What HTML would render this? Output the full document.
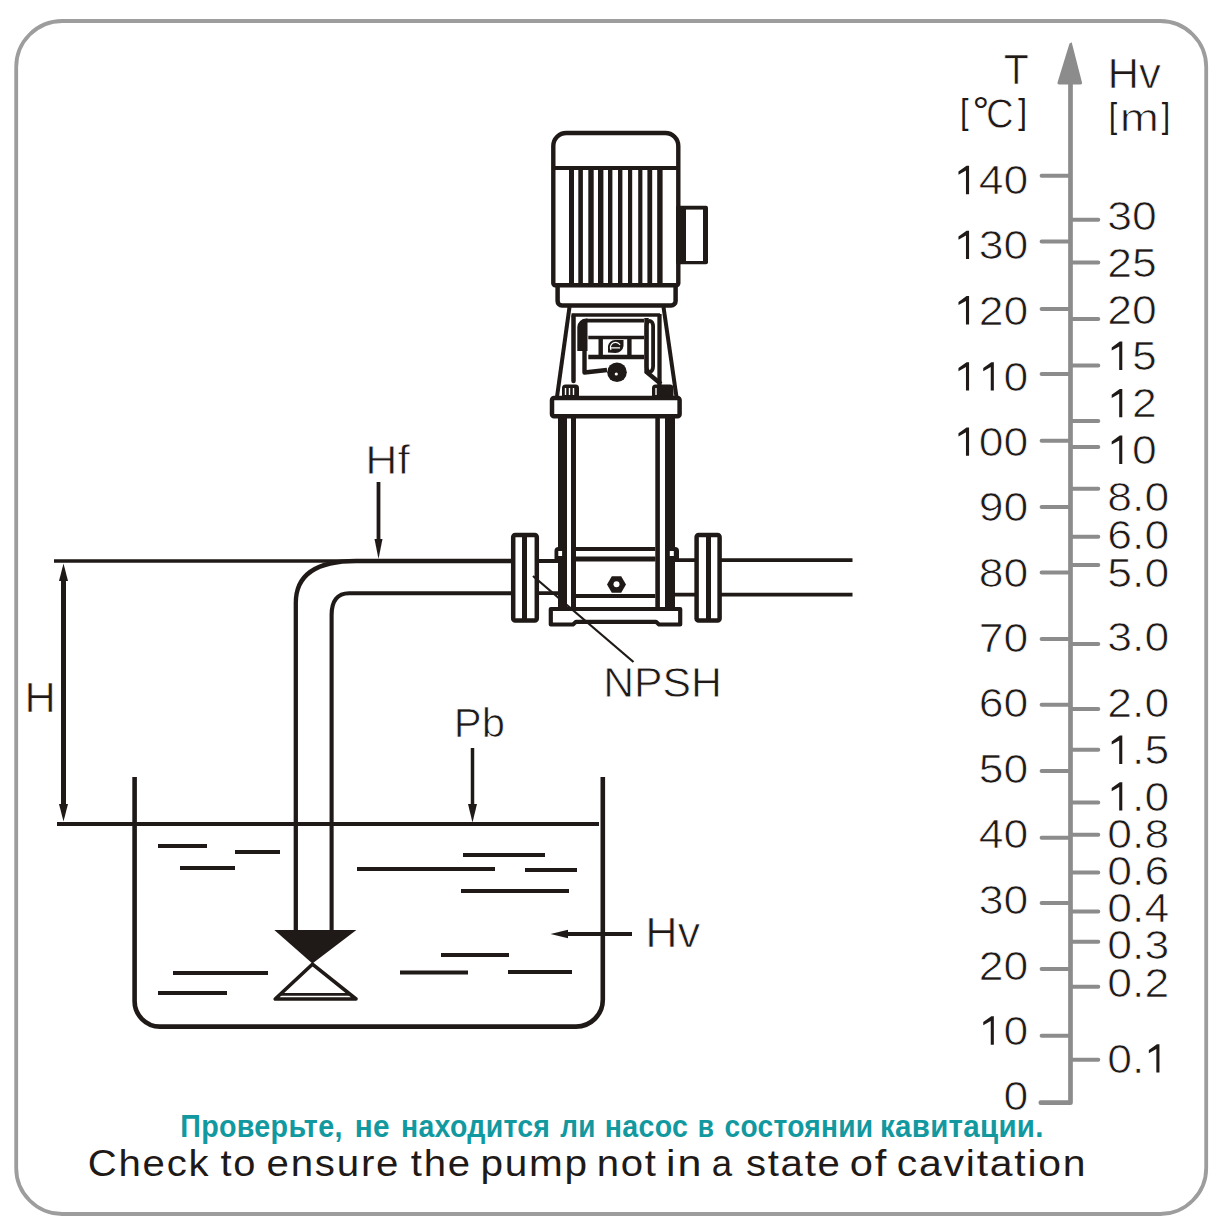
<!DOCTYPE html>
<html><head><meta charset="utf-8">
<style>
html,body{margin:0;padding:0;background:#fff;width:1230px;height:1229px;overflow:hidden}
svg{position:absolute;left:0;top:0;display:block}
text{font-family:"Liberation Sans",sans-serif}
</style></head>
<body>
<svg width="1230" height="1229" viewBox="0 0 1230 1229">
<rect x="0" y="0" width="1230" height="1229" fill="#fff"/>
<!-- border -->
<rect x="16.2" y="21" width="1190" height="1193" rx="46" ry="46" fill="#fff" stroke="#9d9d9d" stroke-width="3.8"/>

<g id="diagram" stroke="#1f1a17" fill="none" stroke-linecap="butt">
  <!-- datum line + outer pipe -->
  <path d="M54,561 L511,561" stroke-width="3.7"/>
  <path d="M295.8,930 L295.8,603 C295.8,576 314,561 356,561 L511,561" stroke-width="4.3"/>
  <path d="M331.6,930 L331.6,615 C331.6,601 337.5,593.2 349,593.2 L511,593.2" stroke-width="4.1"/>
  <!-- H dimension -->
  <path d="M63.5,578 L63.5,807" stroke-width="5"/>
  <path d="M63.5,563.5 L59,581 L68,581 Z" fill="#1f1a17" stroke="none"/>
  <path d="M63.5,821.5 L59,804 L68,804 Z" fill="#1f1a17" stroke="none"/>
  <!-- water line -->
  <path d="M57,824 L599,824" stroke-width="4"/>
  <!-- Hf arrow -->
  <path d="M378.5,482 L378.5,542" stroke-width="3.8"/>
  <path d="M378.5,559 L374.5,539 L382.5,539 Z" fill="#1f1a17" stroke="none"/>
  <!-- Pb arrow -->
  <path d="M472.5,748 L472.5,807" stroke-width="3.5"/>
  <path d="M472.5,822.5 L468,804 L477,804 Z" fill="#1f1a17" stroke="none"/>
  <!-- Hv arrow -->
  <path d="M566,934 L632,934" stroke-width="4"/>
  <path d="M550.5,934 L568,929.8 L568,938.2 Z" fill="#1f1a17" stroke="none"/>
  <!-- NPSH leader -->
  <!-- tank -->
  <path d="M134.6,777 L134.6,1001 A25.5,25.5 0 0 0 160,1026.6 L576,1026.6 A26.8,26.8 0 0 0 602.8,999.8 L602.8,777" stroke-width="4.6"/>
  <!-- waves -->
  <g stroke-width="4">
    <path d="M158,846 H207"/><path d="M235,852 H280"/><path d="M180,868 H235"/>
    <path d="M463,855 H545"/><path d="M357,869 H495"/><path d="M525,870 H577"/>
    <path d="M461,891 H569"/><path d="M173,973 H268"/><path d="M158,993 H227"/>
    <path d="M441,955 H509"/><path d="M400,972.4 H468"/><path d="M508,972 H572"/>
  </g>
  <!-- foot valve -->
  <path d="M274.3,930 L356.4,930 L312.4,963.6 Z" fill="#1f1a17" stroke="none"/>
  <path d="M312.4,964.2 L275.2,999 L356,999 Z" stroke-width="3.6" stroke-linejoin="round"/>
  <path d="M280.5,994.3 L350.5,994.3" stroke-width="2.8"/>

  <!-- pipe stubs near pump -->
  <path d="M539,561 H558 M539,593.2 H558" stroke-width="3.8"/>
  <path d="M675,560.2 H695 M675,594.6 H695" stroke-width="3.8"/>
  <path d="M721,560.2 H852.5 M721,594.6 H852.5" stroke-width="3.8"/>
  <!-- flanges -->
  <rect x="513.2" y="535" width="23.6" height="85.4" rx="2" stroke-width="4.5"/>
  <path d="M524.5,535 V620" stroke-width="5"/>
  <rect x="696.6" y="535" width="23" height="85.4" rx="2" stroke-width="4.5"/>
  <path d="M708.5,535 V620" stroke-width="5"/>
</g>

<g id="pump" stroke="#1f1a17" fill="none">
  <!-- collar -->
  <path d="M557.6,285 L557.6,301 A4.5,4.5 0 0 0 562,305.5 L671,305.5 A4.5,4.5 0 0 0 675.6,301 L675.6,285" stroke-width="4.5" fill="#fff"/>
  <!-- motor -->
  <path d="M555.3,285.2 A2,2 0 0 1 553.3,283.2 L553.3,146 A13,13 0 0 1 566.3,133 L665.3,133 A13,13 0 0 1 678.3,146 L678.3,283.2 A2,2 0 0 1 676.3,285.2 Z" stroke-width="4.4" fill="#fff"/>
  <path d="M553,168 H678" stroke-width="4"/>
  <g fill="#1f1a17" stroke="none">
    <rect x="569" y="168" width="5" height="117"/>
    <rect x="578.3" y="168" width="4.6" height="117"/>
    <rect x="588.3" y="168" width="5.4" height="117"/>
    <rect x="598" y="168" width="5.4" height="117"/>
    <rect x="608" y="168" width="4.4" height="117"/>
    <rect x="618" y="168" width="4.4" height="117"/>
    <rect x="628" y="168" width="4.2" height="117"/>
    <rect x="638.2" y="168" width="4.2" height="117"/>
    <rect x="647.4" y="168" width="4.8" height="117"/>
    <rect x="657.2" y="168" width="5.4" height="117"/>
    <!-- terminal box -->
    <rect x="676" y="205.8" width="32" height="58.5" rx="2"/>
  </g>
  <rect x="686" y="209.6" width="17" height="51.4" fill="#fff" stroke="none"/>
  <!-- bracket legs -->
  <path d="M569.5,307 L557,397" stroke-width="4"/>
  <path d="M663.5,307 L676.5,397" stroke-width="4"/>
  <path d="M571.6,315 H660" stroke-width="3.7"/>
  <path d="M573.5,316 V381" stroke-width="4.5" stroke-linecap="round"/>
  <path d="M659.5,314 V386" stroke-width="4.3"/>
  <!-- inner frame -->
  <path d="M584.5,350 V372.5 L607,370" stroke-width="4.4" stroke-linejoin="round"/>
  <path d="M577.3,351 L577.3,327 A9,9 0 0 1 586.3,318.4 L587.5,318.4 L587.5,351 Z" fill="#1f1a17" stroke="none"/>
  <path d="M586,320.6 H644" stroke-width="3.8"/>
  <rect x="646.5" y="320.8" width="6.6" height="51" rx="5.5" stroke-width="3.8"/>
  <path d="M646.5,318 V372 L661,384" stroke-width="4.4"/>
  <path d="M588.3,337.5 H644" stroke-width="3.5"/>
  <path d="M588.3,357 H644" stroke-width="4.6"/>
  <path d="M600.7,337.5 V357 M629.4,337.5 V357" stroke-width="4.4"/>
  <!-- logo -->
  <path d="M608,352.5 L608,346 A7,7 0 0 1 615,340 L623.5,340 L623.5,346 A8,8 0 0 1 615.5,353 Z" fill="#1f1a17" stroke="none"/>
  <path d="M611,350 A5,5 0 0 1 620,345 M610.5,347.8 H620" stroke="#fff" stroke-width="1.2"/>
  <!-- nut -->
  <circle cx="617" cy="372.3" r="9.8" fill="#1f1a17" stroke="none"/>
  <path d="M608,366 A11,11 0 0 1 627,367" stroke="#fff" stroke-width="1"/>
  <circle cx="616.3" cy="374" r="1.6" fill="#fff" stroke="none"/>
  <!-- bolts -->
  <path d="M562,396 V388 A3.5,3.5 0 0 1 565.5,384.5 H575.5 A3.5,3.5 0 0 1 579,388 V396 Z" fill="#1f1a17" stroke="none"/>
  <path d="M565.5,388 V395 M569.5,388 V395 M573.5,388 V395" stroke="#fff" stroke-width="1.4"/>
  <path d="M652,396 V388 A3.5,3.5 0 0 1 655.5,384.5 H670 A3.5,3.5 0 0 1 673.5,388 V396 Z" fill="#1f1a17" stroke="none"/>
  <path d="M656,388 V395" stroke="#fff" stroke-width="1.4"/>
  <!-- base plate -->
  <rect x="552" y="398" width="127.6" height="18.2" rx="2" stroke-width="4.5" fill="#fff"/>
  <!-- tie rods -->
  <g fill="#1f1a17" stroke="none">
    <rect x="558" y="418" width="9" height="191"/>
    <rect x="665" y="418" width="10" height="191"/>
    <rect x="571" y="418" width="5" height="191"/>
    <rect x="655.3" y="418" width="4.6" height="191"/>
    <!-- bulges -->
    <path d="M554.5,562.5 V551 A4,4 0 0 1 558.5,547 H567 V562.5 Z"/>
    <path d="M679,562 V551 A4,4 0 0 0 675,547 H665 V562 Z"/>
  </g>
  <rect x="558.3" y="551" width="3.8" height="5" fill="#fff" stroke="none"/>
  <rect x="669.8" y="551" width="4" height="5" fill="#fff" stroke="none"/>
  <path d="M576,549 H655.3 M576,559 H655.3 M576,596 H655.3" stroke-width="3.8"/>
  <path d="M576,559 H655.3" stroke-width="5"/>
  <!-- hex nut -->
  <path d="M611.8,576.2 L621.2,576.2 L626,584.5 L621.2,592.8 L611.8,592.8 L607,584.5 Z" fill="#1f1a17" stroke="none"/>
  <circle cx="616.5" cy="584.3" r="3" fill="#fff" stroke="none"/>
  <!-- pump base foot -->
  <path d="M550.8,609 L680.2,609 L680.2,624.5 L659,624.5 L656,621.8 L576,621.8 L573,624.5 L550.8,624.5 Z" stroke-width="4.2" stroke-linejoin="round" fill="#fff"/>
</g>
<path d="M533,576 L633.5,662" stroke="#1f1a17" stroke-width="2.3" fill="none"/>
<g id="scale" stroke="#8c8c8c" fill="none">
  <path d="M1070.5,82 V1102.7 H1040.8" stroke-width="4.7" stroke-linejoin="round" stroke-linecap="round"/>
  <path d="M1070.7,43 Q1071.5,41.5 1072,43.5 L1082,82.5 Q1082.5,84.5 1080.5,84.5 L1059,84.5 Q1057,84.5 1057.5,82.5 L1069.5,43.5 Z" fill="#8c8c8c" stroke="none"/>
  <path d="M1041.6,175.8 H1069 M1041.6,241.6 H1069 M1041.6,309 H1069 M1041.6,374 H1069 M1041.6,440.7 H1069 M1041.6,507 H1069 M1041.6,572.6 H1069 M1041.6,639 H1069 M1041.6,704.8 H1069 M1041.6,771 H1069 M1041.6,837.8 H1069 M1041.6,903 H1069 M1041.6,969 H1069 M1041.6,1035.8 H1069 " stroke-width="4.0" stroke-linecap="round"/>
  <path d="M1072,219.8 H1098.3 M1072,262.6 H1098.3 M1072,319 H1098.3 M1072,365.5 H1098.3 M1072,421 H1098.3 M1072,447 H1098.3 M1072,488.8 H1098.3 M1072,536.8 H1098.3 M1072,565 H1098.3 M1072,643.9 H1098.3 M1072,709 H1098.3 M1072,749.8 H1098.3 M1072,802.6 H1098.3 M1072,834.7 H1098.3 M1072,872.6 H1098.3 M1072,911.5 H1098.3 M1072,941.8 H1098.3 M1072,986.7 H1098.3 M1072,1059.7 H1098.3 " stroke-width="4.0" stroke-linecap="round"/>
</g>
<g id="scalelabels" fill="#1f1a17" font-size="40.5" stroke="#fff" stroke-width="0.75">
  <text transform="translate(954.07,194.20) scale(1.1,1)"> 40</text>
  <path d="M965.97,194.20 H969.07 V165.80 H966.57 L958.47,171.60 L958.47,174.80 L965.97,170.60 Z" fill="#1f1a17" stroke="none"/>
  <text transform="translate(954.07,259.10) scale(1.1,1)"> 30</text>
  <path d="M965.97,259.10 H969.07 V230.70 H966.57 L958.47,236.50 L958.47,239.70 L965.97,235.50 Z" fill="#1f1a17" stroke="none"/>
  <text transform="translate(954.07,324.50) scale(1.1,1)"> 20</text>
  <path d="M965.97,324.50 H969.07 V296.10 H966.57 L958.47,301.90 L958.47,305.10 L965.97,300.90 Z" fill="#1f1a17" stroke="none"/>
  <text transform="translate(954.07,390.60) scale(1.1,1)">  0</text>
  <path d="M965.97,390.60 H969.07 V362.20 H966.57 L958.47,368.00 L958.47,371.20 L965.97,367.00 Z" fill="#1f1a17" stroke="none"/>
  <path d="M990.75,390.60 H993.85 V362.20 H991.35 L983.25,368.00 L983.25,371.20 L990.75,367.00 Z" fill="#1f1a17" stroke="none"/>
  <text transform="translate(954.07,455.80) scale(1.1,1)"> 00</text>
  <path d="M965.97,455.80 H969.07 V427.40 H966.57 L958.47,433.20 L958.47,436.40 L965.97,432.20 Z" fill="#1f1a17" stroke="none"/>
  <text transform="translate(978.85,520.70) scale(1.1,1)">90</text>
  <text transform="translate(978.85,586.60) scale(1.1,1)">80</text>
  <text transform="translate(978.85,651.50) scale(1.1,1)">70</text>
  <text transform="translate(978.85,717.30) scale(1.1,1)">60</text>
  <text transform="translate(978.85,782.60) scale(1.1,1)">50</text>
  <text transform="translate(978.85,848.40) scale(1.1,1)">40</text>
  <text transform="translate(978.85,914.10) scale(1.1,1)">30</text>
  <text transform="translate(978.85,979.70) scale(1.1,1)">20</text>
  <text transform="translate(978.85,1044.70) scale(1.1,1)"> 0</text>
  <path d="M990.75,1044.70 H993.85 V1016.30 H991.35 L983.25,1022.10 L983.25,1025.30 L990.75,1021.10 Z" fill="#1f1a17" stroke="none"/>
  <text transform="translate(1003.62,1109.90) scale(1.1,1)">0</text>
  <text transform="translate(1107.30,229.60) scale(1.1,1)">30</text>
  <text transform="translate(1107.30,276.70) scale(1.1,1)">25</text>
  <text transform="translate(1107.30,324.40) scale(1.1,1)">20</text>
  <text transform="translate(1107.30,370.00) scale(1.1,1)"> 5</text>
  <path d="M1119.20,370.00 H1122.30 V341.60 H1119.80 L1111.70,347.40 L1111.70,350.60 L1119.20,346.40 Z" fill="#1f1a17" stroke="none"/>
  <text transform="translate(1107.30,417.30) scale(1.1,1)"> 2</text>
  <path d="M1119.20,417.30 H1122.30 V388.90 H1119.80 L1111.70,394.70 L1111.70,397.90 L1119.20,393.70 Z" fill="#1f1a17" stroke="none"/>
  <text transform="translate(1107.30,464.00) scale(1.1,1)"> 0</text>
  <path d="M1119.20,464.00 H1122.30 V435.60 H1119.80 L1111.70,441.40 L1111.70,444.60 L1119.20,440.40 Z" fill="#1f1a17" stroke="none"/>
  <text transform="translate(1107.30,510.50) scale(1.1,1)">8.0</text>
  <text transform="translate(1107.30,549.20) scale(1.1,1)">6.0</text>
  <text transform="translate(1107.30,587.10) scale(1.1,1)">5.0</text>
  <text transform="translate(1107.30,651.30) scale(1.1,1)">3.0</text>
  <text transform="translate(1107.30,716.90) scale(1.1,1)">2.0</text>
  <text transform="translate(1107.30,764.00) scale(1.1,1)"> .5</text>
  <path d="M1119.20,764.00 H1122.30 V735.60 H1119.80 L1111.70,741.40 L1111.70,744.60 L1119.20,740.40 Z" fill="#1f1a17" stroke="none"/>
  <text transform="translate(1107.30,810.60) scale(1.1,1)"> .0</text>
  <path d="M1119.20,810.60 H1122.30 V782.20 H1119.80 L1111.70,788.00 L1111.70,791.20 L1119.20,787.00 Z" fill="#1f1a17" stroke="none"/>
  <text transform="translate(1107.30,848.20) scale(1.1,1)">0.8</text>
  <text transform="translate(1107.30,885.10) scale(1.1,1)">0.6</text>
  <text transform="translate(1107.30,922.40) scale(1.1,1)">0.4</text>
  <text transform="translate(1107.30,959.00) scale(1.1,1)">0.3</text>
  <text transform="translate(1107.30,996.60) scale(1.1,1)">0.2</text>
  <text transform="translate(1107.30,1072.60) scale(1.1,1)">0. </text>
  <path d="M1156.35,1072.60 H1159.45 V1044.20 H1156.95 L1148.85,1050.00 L1148.85,1053.20 L1156.35,1049.00 Z" fill="#1f1a17" stroke="none"/>
</g>
<g id="labels" fill="#1f1a17" stroke="#fff" stroke-width="0.75">
  <text font-size="40.49" transform="translate(365.34,474.00) scale(1.1013,1)" >Hf</text>
  <text font-size="42.59" transform="translate(24.45,712.00) scale(1.0173,1)" >H</text>
  <text font-size="40.44" transform="translate(453.77,736.81) scale(1.0348,1)" >Pb</text>
  <text font-size="42.23" transform="translate(603.19,696.79) scale(1.0125,1)" >NPSH</text>
  <text font-size="42.30" transform="translate(645.32,946.80) scale(1.0607,1)" >Hv</text>
  <text font-size="42.30" transform="translate(1003.68,84.30) scale(0.9701,1)" >T</text>
  <text font-size="42.01" transform="translate(1107.41,87.70) scale(1.0429,1)" >Hv</text>
  <text font-size="34.97" transform="translate(960.28,124.44) scale(0.8489,1)" stroke="none">[</text>
  <text font-size="40.60" transform="translate(972.41,125.35) scale(1.0282,1)" stroke="none">°</text>
  <text font-size="41.81" transform="translate(986.06,127.59) scale(0.9140,1)" >C</text>
  <text font-size="34.97" transform="translate(1018.16,124.44) scale(0.8920,1)" stroke="none">]</text>
  <text font-size="34.97" transform="translate(1108.92,127.74) scale(0.8345,1)" stroke="none">[</text>
  <text font-size="38.84" transform="translate(1119.87,131.30) scale(1.2125,1)" >m</text>
  <text font-size="34.97" transform="translate(1161.67,127.74) scale(0.8489,1)" stroke="none">]</text>
</g>
<g fill="#12999f" font-weight="bold">
  <text font-size="31.40" letter-spacing="0.3" transform="translate(180.28,1137.00) scale(0.9146,1)" >Проверьте,</text>
  <text font-size="31.40" letter-spacing="0.3" transform="translate(354.72,1137.00) scale(0.9473,1)" >не</text>
  <text font-size="31.40" letter-spacing="0.3" transform="translate(401.01,1137.00) scale(0.9072,1)" >находится</text>
  <text font-size="31.40" letter-spacing="0.3" transform="translate(560.21,1137.00) scale(0.8880,1)" >ли</text>
  <text font-size="31.40" letter-spacing="0.3" transform="translate(604.80,1137.00) scale(0.9106,1)" >насос</text>
  <text font-size="31.40" letter-spacing="0.3" transform="translate(697.86,1137.00) scale(0.8373,1)" >в</text>
  <text font-size="31.40" letter-spacing="0.3" transform="translate(724.50,1137.00) scale(0.8969,1)" >состоянии</text>
  <text font-size="31.40" letter-spacing="0.3" transform="translate(880.06,1137.00) scale(0.9392,1)" >кавитации.</text>
</g>
<g fill="#1f1a17">
  <text font-size="36.80" letter-spacing="1.6" transform="translate(87.76,1175.60) scale(1.0919,1)" >Check</text>
  <text font-size="36.80" letter-spacing="1.6" transform="translate(220.40,1175.60) scale(1.0832,1)" >to</text>
  <text font-size="36.80" letter-spacing="1.6" transform="translate(266.59,1175.60) scale(1.0944,1)" >ensure</text>
  <text font-size="36.80" letter-spacing="1.6" transform="translate(410.79,1175.60) scale(1.0908,1)" >the</text>
  <text font-size="36.80" letter-spacing="1.6" transform="translate(480.39,1175.60) scale(1.1018,1)" >pump</text>
  <text font-size="36.80" letter-spacing="1.6" transform="translate(596.74,1175.60) scale(1.0902,1)" >not</text>
  <text font-size="36.80" letter-spacing="1.6" transform="translate(666.12,1175.60) scale(1.1697,1)" >in</text>
  <text font-size="36.80" letter-spacing="1.6" transform="translate(711.85,1175.60) scale(0.9945,1)" >a</text>
  <text font-size="36.80" letter-spacing="1.6" transform="translate(745.88,1175.60) scale(1.0919,1)" >state</text>
  <text font-size="36.80" letter-spacing="1.6" transform="translate(849.85,1175.60) scale(1.1331,1)" >of</text>
  <text font-size="36.80" letter-spacing="1.6" transform="translate(896.86,1175.60) scale(1.1114,1)" >cavitation</text>
</g>

</svg>
</body></html>
